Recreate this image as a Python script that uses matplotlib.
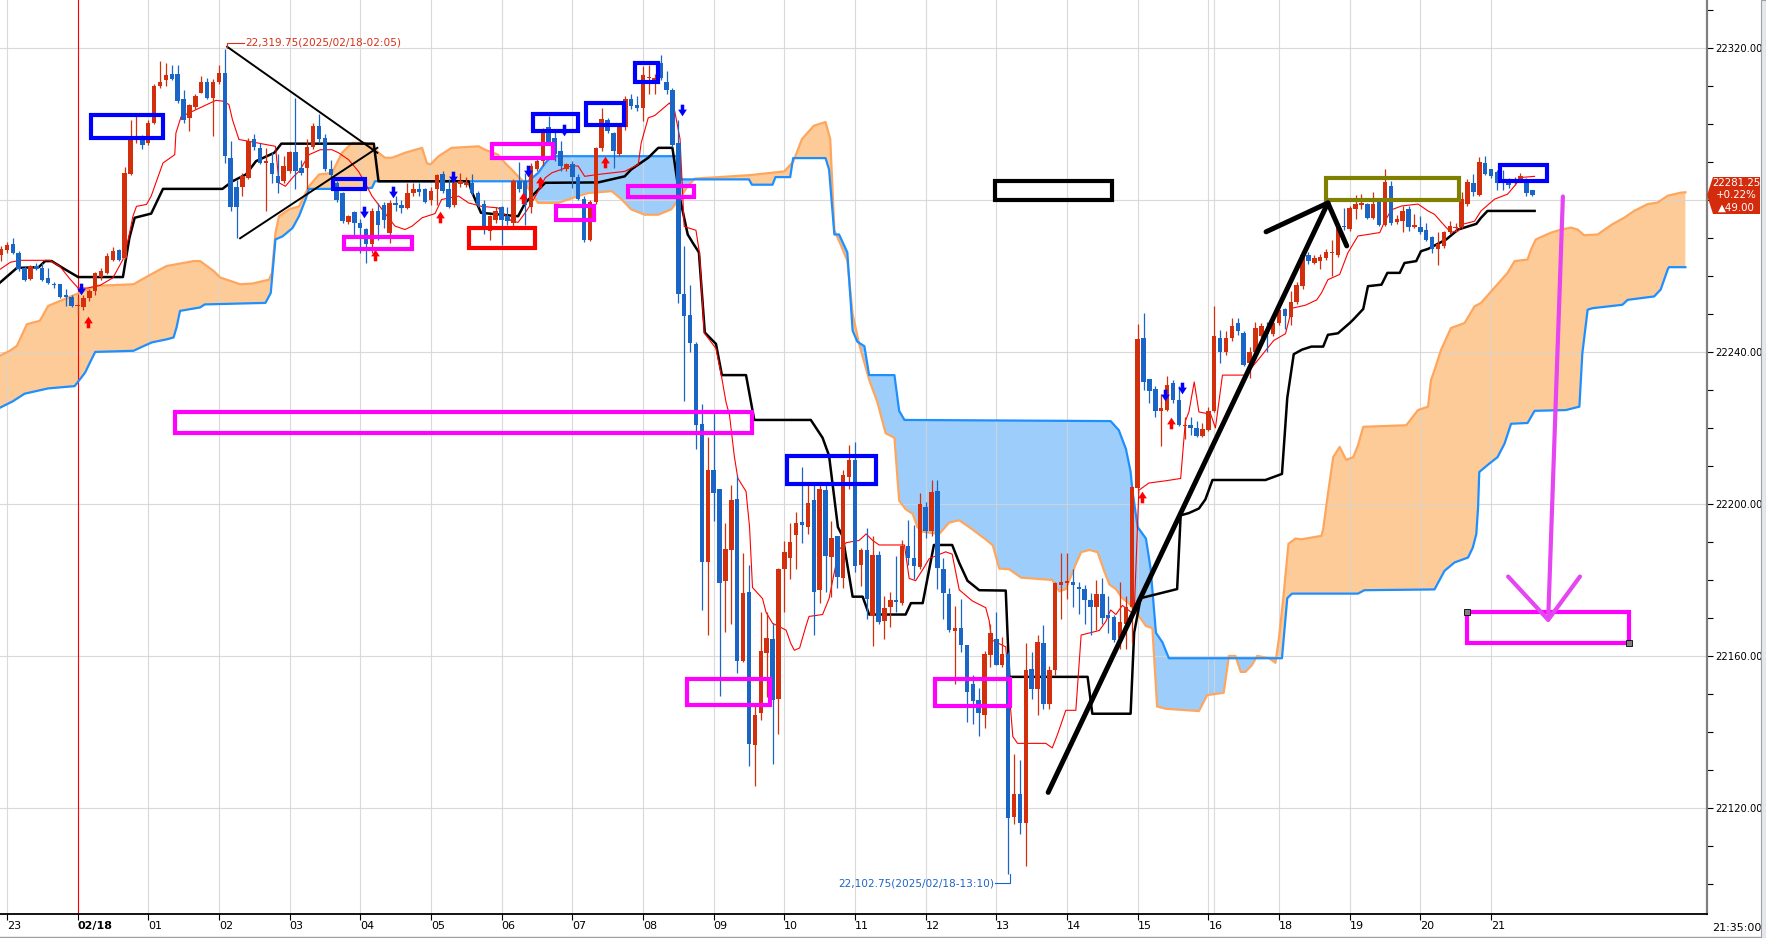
import numpy as np
import matplotlib
matplotlib.use('Agg')
import matplotlib.pyplot as plt
from matplotlib.patches import Rectangle, Polygon
from matplotlib.path import Path
from matplotlib import font_manager

#### data (5 minute candles, index 1 = 23:00)

opens = [
    22265.5, 22266.75, 22268.5, 22266.0, 22262.0, 22259.25, 22262.5, 22262.0, 22259.5, 22257.75,
    22257.75, 22254.75, 22254.5, 22252.0, 22251.75, 22254.25, 22256.0, 22259.75, 22260.75, 22264.25,
    22266.75, 22264.75, 22286.75, 22296.0, 22296.75, 22295.0, 22300.25, 22310.0, 22311.5, 22313.25,
    22313.0, 22306.5, 22301.5, 22304.5, 22308.25, 22311.0, 22306.75, 22311.0, 22313.5, 22291.0,
    22283.5, 22283.5, 22285.75, 22296.0, 22293.75, 22289.75, 22289.75, 22286.25, 22285.0, 22287.5,
    22292.5, 22288.5, 22288.5, 22294.0, 22299.5, 22296.25, 22288.0, 22284.5, 22281.75, 22274.25,
    22276.75, 22274.0, 22272.25, 22268.5, 22277.0, 22278.75, 22271.25, 22279.25, 22278.75, 22278.0,
    22281.75, 22283.0, 22282.75, 22280.0, 22282.75, 22286.75, 22282.75, 22278.75, 22284.25, 22284.0,
    22284.5, 22281.75, 22279.0, 22271.75, 22274.75, 22278.25, 22275.75, 22274.0, 22285.0, 22285.0,
    22278.25, 22288.0, 22290.25, 22299.25, 22296.25, 22292.75, 22288.0, 22289.5, 22286.0, 22280.25,
    22269.5, 22279.5, 22293.75, 22301.0, 22297.5, 22292.0, 22299.25, 22306.5, 22305.0, 22304.25,
    22312.0, 22311.5, 22316.0, 22311.0, 22309.0, 22295.0, 22255.25, 22249.75, 22242.0, 22221.0,
    22184.75, 22209.0, 22204.0, 22179.75, 22188.0, 22201.25, 22158.75, 22176.75, 22136.5, 22145.0,
    22160.75, 22164.5, 22148.75, 22182.75, 22185.75, 22191.75, 22195.25, 22194.0, 22201.0, 22177.25,
    22203.75, 22186.0, 22191.5, 22180.5, 22207.0, 22211.5, 22184.0, 22187.75, 22170.5, 22186.5,
    22169.25, 22173.0, 22174.5, 22174.0, 22189.0, 22185.75, 22183.5, 22199.25, 22193.0, 22203.5,
    22182.75, 22176.25, 22166.5, 22167.25, 22163.0, 22152.5, 22148.5, 22144.5, 22160.25, 22164.5,
    22157.5, 22160.5, 22117.75, 22123.75, 22116.0, 22156.5, 22151.25, 22163.5, 22147.25, 22156.25,
    22178.75, 22179.25, 22179.5, 22178.25, 22177.5, 22174.75, 22173.0, 22176.25, 22170.75, 22170.25,
    22164.75, 22168.5, 22172.75, 22204.25, 22243.75, 22232.75, 22230.25, 22224.5, 22224.75, 22231.75,
    22227.25, 22220.5, 22220.75, 22220.0, 22218.0, 22219.5, 22224.5, 22243.75, 22240.0, 22243.75,
    22247.5, 22245.0, 22237.0, 22240.0, 22244.25, 22245.5, 22244.75, 22247.5, 22251.25, 22249.25,
    22253.25, 22257.25, 22265.5, 22263.5, 22264.0, 22264.75, 22266.0, 22265.5, 22273.0, 22272.25,
    22277.5, 22278.75, 22279.0, 22275.25, 22279.75, 22273.5, 22283.75, 22274.25, 22274.5, 22277.5,
    22273.0, 22273.0, 22272.0, 22270.25, 22267.0, 22267.75, 22271.5, 22272.5, 22273.0, 22279.0,
    22284.5, 22281.25, 22289.75, 22288.0, 22287.25, 22285.5, 22285.5, 22284.75, 22285.5, 22285.5,
    22282.5]

highs = [
    22268.0, 22269.0, 22270.0, 22266.5, 22262.5, 22263.0, 22263.5, 22263.5, 22262.0, 22258.5,
    22258.0, 22256.5, 22255.0, 22254.5, 22255.0, 22256.5, 22261.0, 22262.0, 22266.0, 22267.5,
    22267.0, 22288.75, 22301.0, 22302.0, 22297.0, 22301.0, 22310.5, 22316.5, 22316.0, 22315.5,
    22315.5, 22309.0, 22305.25, 22307.75, 22312.5, 22312.0, 22311.75, 22315.5, 22319.75, 22295.5,
    22285.25, 22287.0, 22296.25, 22297.25, 22295.0, 22293.75, 22292.5, 22292.0, 22291.5, 22292.75,
    22306.75, 22290.5, 22296.0, 22300.25, 22302.5, 22297.25, 22290.5, 22285.0, 22282.0, 22276.0,
    22277.0, 22275.0, 22272.5, 22278.0, 22279.25, 22279.5, 22280.0, 22281.0, 22280.0, 22284.5,
    22284.5, 22284.5, 22283.25, 22283.5, 22286.75, 22287.5, 22285.5, 22285.5, 22287.0, 22286.0,
    22286.75, 22282.25, 22280.0, 22276.0, 22278.25, 22278.5, 22278.25, 22285.5, 22290.0, 22287.0,
    22289.75, 22291.0, 22299.0, 22302.0, 22298.0, 22295.5, 22289.75, 22290.25, 22286.75, 22281.0,
    22280.0, 22294.0, 22304.25, 22301.5, 22297.75, 22299.75, 22307.25, 22307.75, 22307.25, 22315.25,
    22315.5, 22313.0, 22318.25, 22314.0, 22309.5, 22301.0, 22268.0, 22257.5, 22242.5, 22226.25,
    22217.5, 22224.0, 22204.0, 22195.0, 22205.0, 22207.5, 22187.0, 22184.0, 22146.75, 22171.5,
    22171.5, 22168.75, 22183.25, 22190.25, 22195.0, 22198.0, 22209.75, 22205.75, 22205.75, 22205.75,
    22205.75, 22195.5, 22191.5, 22209.0, 22215.5, 22216.25, 22188.5, 22193.75, 22191.5, 22187.5,
    22175.75, 22176.75, 22186.25, 22190.5, 22195.75, 22194.5, 22202.75, 22200.5, 22206.25, 22206.25,
    22185.75, 22178.0, 22173.25, 22175.0, 22163.0, 22155.0, 22151.5, 22161.25, 22168.5, 22171.5,
    22165.0, 22161.0, 22134.25, 22132.75, 22163.5, 22161.0, 22165.5, 22168.25, 22157.25, 22179.5,
    22187.0, 22187.0, 22183.0, 22179.5, 22178.75, 22176.5, 22180.0, 22180.5, 22175.75, 22170.75,
    22179.5, 22175.75, 22204.75, 22247.25, 22250.25, 22233.0, 22231.0, 22229.0, 22233.75, 22232.5,
    22231.0, 22223.0, 22223.0, 22221.75, 22221.25, 22225.5, 22252.0, 22245.75, 22245.5, 22249.0,
    22249.0, 22245.5, 22241.25, 22248.0, 22247.5, 22248.0, 22248.25, 22252.0, 22251.5, 22256.0,
    22258.5, 22266.25, 22266.25, 22265.5, 22265.75, 22267.0, 22269.5, 22274.0, 22278.0, 22278.5,
    22281.25, 22281.5, 22279.25, 22282.0, 22280.0, 22288.0, 22285.0, 22276.0, 22278.5, 22278.5,
    22276.25, 22275.75, 22274.0, 22270.5, 22271.5, 22271.75, 22274.5, 22274.0, 22282.0, 22285.5,
    22286.75, 22291.25, 22291.5, 22288.25, 22287.75, 22287.75, 22285.75, 22286.0, 22287.0, 22285.75,
    22282.5]

lows = [
    22264.0, 22266.0, 22265.75, 22261.25, 22258.75, 22259.0, 22261.5, 22258.75, 22257.75, 22256.75,
    22254.25, 22252.0, 22251.75, 22249.5, 22251.0, 22253.5, 22255.0, 22259.0, 22260.5, 22264.0,
    22264.0, 22264.5, 22286.5, 22295.0, 22293.5, 22294.5, 22300.0, 22309.5, 22310.0, 22311.5,
    22305.5, 22300.25, 22298.0, 22304.0, 22308.0, 22306.5, 22296.75, 22310.5, 22289.75, 22277.0,
    22270.0, 22281.0, 22285.5, 22293.25, 22289.5, 22277.0, 22284.5, 22281.75, 22284.5, 22287.0,
    22282.75, 22286.5, 22282.75, 22293.5, 22295.0, 22287.5, 22285.75, 22279.5, 22274.0, 22273.75,
    22270.0, 22266.0, 22263.5, 22266.0, 22269.5, 22272.5, 22268.75, 22277.0, 22276.5, 22277.5,
    22281.0, 22281.0, 22279.25, 22278.75, 22278.75, 22281.75, 22278.0, 22278.25, 22283.5, 22283.5,
    22281.25, 22278.25, 22271.0, 22269.5, 22274.0, 22268.25, 22273.5, 22273.0, 22282.0, 22273.5,
    22276.5, 22287.5, 22289.0, 22294.5, 22290.25, 22287.5, 22287.5, 22283.25, 22280.0, 22269.0,
    22269.25, 22279.0, 22292.75, 22297.5, 22288.5, 22291.5, 22298.5, 22304.0, 22303.5, 22300.75,
    22307.75, 22307.75, 22311.5, 22307.75, 22294.0, 22253.0, 22227.0, 22240.0, 22214.5, 22172.0,
    22165.5, 22195.5, 22149.5, 22166.25, 22168.5, 22155.5, 22158.5, 22131.0, 22125.75, 22143.25,
    22149.25, 22131.5, 22139.5, 22171.5, 22180.25, 22182.75, 22189.75, 22192.0, 22165.5, 22174.0,
    22176.75, 22175.5, 22177.75, 22178.0, 22204.0, 22182.0, 22178.5, 22169.75, 22162.75, 22168.5,
    22164.5, 22167.5, 22171.5, 22173.5, 22184.0, 22180.25, 22182.75, 22191.0, 22191.5, 22177.5,
    22169.75, 22166.25, 22152.75, 22161.0, 22142.75, 22142.0, 22139.0, 22141.0, 22157.0, 22157.5,
    22157.0, 22102.75, 22115.75, 22113.25, 22104.75, 22148.75, 22144.5, 22146.0, 22146.0, 22155.0,
    22169.75, 22175.0, 22172.75, 22171.0, 22168.5, 22165.5, 22166.75, 22168.5, 22166.0, 22163.75,
    22161.75, 22161.75, 22163.5, 22203.0, 22230.0, 22226.5, 22223.0, 22215.25, 22224.5, 22226.5,
    22220.5, 22217.0, 22218.25, 22217.5, 22217.5, 22219.25, 22224.25, 22237.0, 22239.25, 22242.75,
    22244.5, 22236.25, 22233.25, 22239.5, 22243.5, 22240.0, 22244.25, 22247.0, 22246.0, 22247.0,
    22252.5, 22256.5, 22263.25, 22263.25, 22261.75, 22264.25, 22260.0, 22265.0, 22272.0, 22271.75,
    22275.0, 22277.5, 22275.0, 22275.0, 22273.25, 22273.25, 22273.5, 22273.75, 22271.5, 22271.75,
    22272.5, 22271.0, 22269.25, 22266.0, 22262.75, 22267.25, 22271.0, 22271.5, 22272.5, 22278.5,
    22281.0, 22281.0, 22286.5, 22285.75, 22282.5, 22282.5, 22283.25, 22284.0, 22285.0, 22281.0,
    22281.0]

closes = [
    22267.0, 22268.25, 22266.0, 22261.75, 22259.0, 22262.5, 22261.75, 22259.0, 22258.25, 22257.5,
    22254.5, 22254.5, 22252.0, 22252.25, 22254.25, 22256.0, 22260.75, 22261.25, 22265.25, 22266.5,
    22264.25, 22287.0, 22296.0, 22296.25, 22294.5, 22300.25, 22310.0, 22311.0, 22312.75, 22311.75,
    22306.0, 22301.0, 22305.0, 22307.25, 22311.0, 22306.75, 22311.0, 22313.5, 22291.5, 22278.25,
    22278.25, 22286.25, 22295.5, 22294.0, 22289.75, 22290.25, 22286.75, 22284.5, 22289.0, 22292.5,
    22287.5, 22287.0, 22294.0, 22299.5, 22296.0, 22288.0, 22286.5, 22280.0, 22274.5, 22275.75,
    22274.0, 22272.5, 22268.5, 22277.0, 22273.5, 22274.75, 22279.25, 22278.75, 22278.0, 22281.75,
    22283.0, 22282.0, 22279.5, 22282.25, 22286.5, 22282.25, 22278.25, 22284.5, 22285.0, 22284.5,
    22281.75, 22278.75, 22273.0, 22275.75, 22277.0, 22274.75, 22274.5, 22285.0, 22283.0, 22278.75,
    22289.0, 22290.25, 22297.5, 22295.0, 22292.0, 22289.0, 22289.5, 22286.0, 22280.25, 22269.5,
    22279.5, 22293.75, 22301.25, 22298.25, 22292.75, 22299.25, 22306.5, 22304.75, 22304.25, 22312.75,
    22312.25, 22312.0, 22312.0, 22309.0, 22294.5, 22255.25, 22249.5, 22242.25, 22220.75, 22184.75,
    22209.0, 22202.75, 22179.25, 22188.25, 22201.0, 22158.75, 22176.5, 22136.75, 22144.5, 22161.25,
    22164.75, 22148.5, 22182.75, 22187.25, 22190.0, 22195.0, 22194.5, 22200.25, 22176.75, 22204.0,
    22186.25, 22191.0, 22180.75, 22207.5, 22211.5, 22183.75, 22187.75, 22175.0, 22186.5, 22169.0,
    22172.5, 22174.75, 22174.25, 22189.0, 22185.75, 22183.75, 22200.0, 22193.0, 22203.25, 22183.25,
    22176.5, 22166.75, 22167.25, 22163.0, 22150.5, 22148.25, 22145.0, 22160.5, 22166.0, 22157.75,
    22160.5, 22117.25, 22123.75, 22116.0, 22156.25, 22151.25, 22163.75, 22147.25, 22156.25, 22179.25,
    22179.5, 22179.75, 22178.75, 22177.5, 22174.75, 22173.0, 22176.25, 22170.0, 22170.0, 22164.25,
    22169.0, 22172.75, 22204.5, 22243.5, 22232.0, 22229.75, 22224.5, 22225.25, 22231.25, 22227.25,
    22220.75, 22220.75, 22220.0, 22218.0, 22219.75, 22224.5, 22244.25, 22240.0, 22243.75, 22246.75,
    22245.5, 22236.5, 22240.0, 22246.25, 22246.75, 22244.75, 22247.5, 22251.0, 22249.5, 22253.25,
    22257.5, 22265.5, 22264.0, 22264.75, 22265.0, 22266.25, 22266.25, 22273.5, 22272.75, 22278.0,
    22279.0, 22279.0, 22275.25, 22279.0, 22273.5, 22284.75, 22274.0, 22275.0, 22277.0, 22273.0,
    22273.5, 22271.5, 22269.5, 22267.0, 22268.5, 22271.5, 22273.25, 22273.0, 22280.25, 22284.75,
    22282.0, 22290.0, 22286.75, 22286.25, 22284.5, 22284.5, 22284.0, 22285.5, 22286.25, 22281.75,
    22281.25]

# ichimoku lines, read as (candle index, price) break points
tenkan = [(-0.1, 22261.8), (1.6, 22263.6), (3.3, 22264.1), (8.3, 22264.1), (10.0, 22262.5), (11.7, 22259.2),
          (13.1, 22256.8), (14.6, 22256.8), (16.8, 22257.5), (19.0, 22259.5), (20.7, 22264.3), (21.6, 22269.6),
          (22.4, 22275.7), (23.0, 22278.3), (24.7, 22278.8), (25.5, 22281.0), (26.9, 22287.1), (27.5, 22289.7),
          (29.5, 22291.9), (29.7, 22297.6), (30.6, 22302.0), (31.4, 22302.5), (36.5, 22306.2), (37.6, 22306.0),
          (38.7, 22305.1), (39.3, 22301.1), (40.4, 22295.9), (46.6, 22294.1), (47.2, 22284.5), (48.3, 22283.6),
          (49.7, 22286.2), (50.6, 22287.5), (52.3, 22291.9), (54.2, 22293.2), (56.2, 22293.2), (57.3, 22292.4),
          (59.0, 22290.6), (60.7, 22287.5), (61.8, 22284.5), (63.0, 22281.0), (64.7, 22277.5), (66.9, 22273.1),
          (68.6, 22272.2), (69.8, 22273.1), (71.5, 22275.3), (73.7, 22276.4), (74.8, 22280.1), (77.7, 22281.0),
          (79.4, 22279.2), (81.6, 22278.3), (84.4, 22277.9), (86.7, 22274.4), (87.8, 22274.1), (89.0, 22276.6),
          (90.1, 22279.2), (91.2, 22282.3), (92.4, 22285.8), (93.5, 22287.1), (96.9, 22289.0), (98.0, 22288.9),
          (99.1, 22286.2), (101.4, 22286.7), (105.9, 22287.5), (108.2, 22289.3), (108.7, 22295.0), (109.9, 22301.6),
          (111.0, 22302.2), (113.5, 22305.5), (114.4, 22303.3), (115.3, 22296.0), (116.0, 22273.0), (118.0, 22272.0),
          (118.6, 22266.0), (119.4, 22245.0), (121.4, 22240.9), (122.3, 22233.9), (123.1, 22226.8), (123.7, 22223.3),
          (124.5, 22212.7), (125.1, 22206.8), (126.5, 22203.3), (127.1, 22193.9), (127.6, 22178.0), (129.3, 22175.1),
          (129.9, 22171.5), (131.0, 22168.6), (133.3, 22166.8), (134.1, 22163.3), (134.7, 22161.5), (135.6, 22162.1),
          (136.7, 22168.0), (137.2, 22170.4), (139.5, 22170.9), (140.6, 22175.1), (141.5, 22182.1), (142.3, 22188.0),
          (143.5, 22189.8), (145.7, 22190.4), (146.9, 22192.1), (148.0, 22190.4), (149.1, 22189.2), (153.4, 22189.2),
          (154.2, 22180.4), (155.3, 22179.8), (156.5, 22182.7), (157.6, 22185.6), (160.4, 22187.4), (161.5, 22186.8),
          (162.1, 22182.1), (162.7, 22177.4), (164.9, 22174.5), (167.2, 22172.7), (167.8, 22169.2), (168.2, 22164.2),
          (170.6, 22162.4), (171.2, 22150.3), (171.8, 22138.8), (172.6, 22137.0), (177.4, 22137.0), (178.5, 22135.8),
          (179.4, 22139.4), (180.8, 22145.7), (182.5, 22145.7), (183.4, 22165.5), (186.5, 22166.7), (187.6, 22169.1),
          (188.4, 22172.1), (189.3, 22170.9), (190.4, 22173.3), (192.4, 22170.9), (193.2, 22203.6), (194.9, 22205.5),
          (197.8, 22206.1), (200.3, 22206.7), (201.1, 22221.8), (201.7, 22224.2), (202.6, 22232.1), (203.4, 22224.2),
          (205.4, 22223.6), (206.2, 22220.0), (207.4, 22233.9), (211.3, 22233.9), (213.6, 22238.2), (216.1, 22243.0),
          (218.1, 22244.8), (219.2, 22251.5), (221.5, 22252.3), (223.4, 22253.7), (224.2, 22255.5), (225.3, 22259.0),
          (227.3, 22260.4), (228.7, 22266.1), (230.4, 22270.5), (234.1, 22271.4), (234.9, 22274.2), (236.1, 22277.4),
          (237.8, 22278.4), (240.6, 22278.9), (242.3, 22277.1), (243.4, 22276.2), (245.4, 22272.7), (246.2, 22271.5),
          (247.4, 22271.8), (248.2, 22273.6), (250.2, 22274.4), (251.3, 22277.1), (253.6, 22280.2), (255.8, 22281.5),
          (257.0, 22283.7), (258.1, 22285.9), (260.4, 22286.2)]

kijun = [(-0.2, 22258.2), (2.7, 22262.1), (6.4, 22262.3), (7.5, 22263.9), (8.6, 22263.9), (10.9, 22261.7),
         (13.1, 22259.7), (20.7, 22259.7), (21.8, 22270.0), (22.7, 22275.3), (25.5, 22276.4), (27.5, 22282.9),
         (37.6, 22282.9), (39.3, 22284.9), (41.6, 22286.7), (43.3, 22290.2), (46.4, 22292.4), (47.6, 22294.8),
         (63.3, 22294.8), (64.1, 22284.9), (79.4, 22284.9), (79.9, 22282.3), (81.5, 22276.6), (87.8, 22275.7),
         (89.0, 22279.2), (92.4, 22284.5), (101.4, 22284.6), (105.9, 22286.2), (107.0, 22288.0), (109.9, 22291.1),
         (111.6, 22293.7), (114.0, 22293.7), (115.2, 22281.0), (116.6, 22270.9), (117.5, 22268.6), (118.5, 22266.2),
         (119.5, 22245.1), (121.4, 22242.1), (122.4, 22233.9), (126.5, 22233.9), (127.9, 22222.1), (137.5, 22222.1),
         (139.5, 22217.4), (140.6, 22212.7), (142.1, 22193.9), (142.9, 22191.5), (144.6, 22175.6), (146.3, 22175.6),
         (147.4, 22170.9), (153.6, 22170.9), (154.5, 22173.9), (156.5, 22173.9), (158.4, 22189.2), (161.5, 22189.2),
         (162.7, 22184.5), (164.1, 22179.8), (166.1, 22177.3), (170.6, 22177.2), (171.2, 22154.5), (184.5, 22154.5),
         (185.3, 22144.8), (191.8, 22144.8), (192.4, 22166.1), (193.5, 22175.2), (196.6, 22176.4), (199.7, 22177.6),
         (200.3, 22197.0), (201.7, 22197.6), (203.4, 22198.8), (204.5, 22201.2), (205.7, 22206.3), (214.7, 22206.3),
         (217.5, 22207.9), (218.4, 22227.9), (219.5, 22239.4), (220.9, 22240.6), (222.5, 22241.4), (224.5, 22241.4),
         (225.3, 22244.5), (227.0, 22244.9), (229.0, 22247.6), (229.6, 22248.5), (231.3, 22251.3), (232.1, 22257.3),
         (234.4, 22257.7), (235.4, 22260.8), (237.5, 22260.8), (238.3, 22263.4), (240.3, 22263.9), (241.1, 22266.5),
         (242.3, 22267.1), (245.4, 22269.6), (247.4, 22272.2), (250.5, 22273.7), (251.3, 22275.3), (252.4, 22277.1),
         (260.4, 22277.1)]

span_a = [(-0.2, 22239.0), (1.5, 22240.3), (2.7, 22241.6), (4.4, 22247.3), (6.6, 22248.2), (8.0, 22252.1),
          (10.0, 22253.4), (12.8, 22255.2), (16.2, 22257.4), (22.5, 22257.8), (25.0, 22260.0), (28.1, 22262.6),
          (32.7, 22263.9), (33.8, 22263.9), (36.1, 22261.3), (37.2, 22259.6), (40.6, 22257.8), (42.7, 22258.0),
          (45.5, 22259.0), (46.0, 22260.8), (46.6, 22271.3), (47.2, 22275.7), (48.9, 22277.5), (50.6, 22278.3),
          (52.3, 22283.6), (54.0, 22286.7), (56.2, 22287.1), (57.9, 22292.4), (59.6, 22295.0), (61.8, 22295.0),
          (63.0, 22294.1), (64.1, 22292.4), (65.2, 22291.1), (66.4, 22291.1), (68.6, 22292.4), (71.5, 22293.7),
          (72.3, 22289.7), (72.9, 22289.3), (74.3, 22291.5), (76.5, 22293.7), (81.1, 22294.1), (82.2, 22293.2),
          (84.4, 22291.9), (85.6, 22289.7), (86.7, 22288.0), (87.8, 22286.2), (88.7, 22284.9), (90.1, 22281.8),
          (91.2, 22279.2), (94.6, 22279.2), (98.0, 22281.0), (99.7, 22281.8), (103.7, 22282.3), (105.4, 22280.1),
          (107.0, 22277.5), (109.3, 22276.1), (111.6, 22276.1), (113.8, 22277.5), (115.5, 22281.0), (116.6, 22283.6),
          (117.8, 22285.6), (127.0, 22286.5), (133.0, 22287.5), (134.5, 22290.0), (136.0, 22296.0), (138.0, 22299.5),
          (140.0, 22300.5), (140.8, 22296.0), (141.5, 22272.0), (142.5, 22268.5), (143.7, 22264.0), (144.6, 22250.0),
          (145.7, 22242.1), (147.4, 22232.7), (148.8, 22226.8), (150.2, 22218.6), (151.7, 22217.4), (152.5, 22200.9),
          (153.6, 22198.6), (154.8, 22197.4), (155.6, 22193.9), (156.5, 22192.7), (159.3, 22192.1), (161.0, 22195.1),
          (162.7, 22195.7), (164.4, 22193.9), (167.0, 22190.9), (168.4, 22189.1), (169.5, 22183.0), (171.2, 22182.8),
          (173.2, 22180.6), (178.5, 22180.0), (179.7, 22177.0), (180.8, 22177.6), (182.5, 22184.2), (183.4, 22187.3),
          (184.8, 22187.9), (186.2, 22187.3), (187.3, 22182.4), (188.2, 22178.8), (189.3, 22177.6), (190.4, 22175.2),
          (191.5, 22173.9), (193.0, 22170.9), (194.4, 22167.9), (195.5, 22167.3), (196.3, 22146.7), (197.8, 22146.1),
          (203.4, 22145.5), (204.8, 22149.7), (207.6, 22150.3), (208.5, 22160.0), (209.6, 22160.0), (210.5, 22155.8),
          (211.3, 22155.8), (212.4, 22157.6), (213.3, 22160.0), (215.3, 22159.4), (216.4, 22158.2), (217.0, 22164.8),
          (217.8, 22176.4), (218.6, 22189.5), (219.8, 22190.9), (220.8, 22190.7), (224.2, 22191.6), (224.5, 22193.4),
          (225.3, 22202.6), (226.2, 22212.3), (227.3, 22215.0), (228.4, 22211.6), (229.6, 22212.3), (230.4, 22215.4),
          (231.3, 22220.3), (238.6, 22220.7), (239.7, 22222.9), (240.6, 22224.7), (242.3, 22225.6), (242.8, 22232.6),
          (243.4, 22235.2), (244.5, 22240.5), (246.2, 22246.3), (248.5, 22247.6), (250.2, 22252.0), (251.3, 22252.9),
          (253.3, 22256.4), (255.8, 22260.8), (257.0, 22263.9), (259.2, 22264.3), (259.8, 22267.0), (260.6, 22269.6),
          (263.2, 22271.4), (264.9, 22272.2), (266.6, 22272.7), (267.7, 22272.2), (268.8, 22270.7), (271.1, 22270.9),
          (273.6, 22273.6), (275.6, 22275.3), (277.3, 22277.1), (279.6, 22278.9), (281.3, 22279.3), (283.0, 22281.1),
          (285.2, 22281.9), (286.0, 22282.0)]

span_b = [(-0.2, 22225.3), (2.0, 22227.0), (4.0, 22229.0), (8.0, 22230.4), (12.5, 22231.0), (13.4, 22232.8),
          (14.3, 22234.6), (15.1, 22237.2), (16.0, 22240.0), (22.5, 22240.3), (23.6, 22241.1), (25.6, 22242.5),
          (28.1, 22243.3), (29.3, 22243.8), (29.8, 22246.4), (30.4, 22250.8), (33.8, 22251.7), (34.6, 22252.5),
          (44.9, 22252.9), (45.8, 22255.5), (46.6, 22269.6), (47.8, 22270.4), (49.5, 22272.6), (50.6, 22275.7),
          (51.7, 22280.1), (52.3, 22282.9), (61.0, 22282.9), (63.0, 22283.2), (63.5, 22284.9), (89.5, 22284.9),
          (91.2, 22287.1), (92.4, 22289.7), (93.5, 22291.5), (115.0, 22291.5), (115.5, 22285.4), (127.0, 22285.4),
          (127.5, 22284.0), (131.0, 22284.0), (131.5, 22286.0), (134.0, 22286.0), (134.5, 22291.0), (140.0, 22291.0),
          (140.6, 22288.0), (141.5, 22270.9), (142.3, 22270.9), (143.7, 22266.2), (144.6, 22245.6), (145.4, 22242.7),
          (146.6, 22241.5), (147.4, 22233.9), (151.7, 22233.9), (152.5, 22224.5), (153.4, 22222.1), (188.4, 22221.8),
          (189.8, 22219.4), (191.0, 22214.5), (191.8, 22208.5), (192.1, 22203.6), (193.0, 22193.9), (194.4, 22190.9),
          (195.2, 22183.0), (196.1, 22166.1), (197.2, 22163.6), (198.3, 22159.4), (217.5, 22159.4), (218.4, 22175.2),
          (219.2, 22176.4), (230.4, 22176.4), (231.5, 22177.3), (243.4, 22177.5), (245.1, 22182.4), (246.8, 22184.6),
          (249.1, 22185.9), (249.9, 22188.5), (250.5, 22192.1), (250.8, 22199.1), (251.0, 22208.4), (252.7, 22210.6),
          (254.1, 22212.3), (255.3, 22215.9), (256.4, 22221.1), (259.2, 22221.3), (260.4, 22224.5), (265.7, 22224.7),
          (268.0, 22225.6), (268.5, 22239.6), (269.4, 22251.1), (270.2, 22251.5), (275.3, 22252.4), (276.2, 22253.7),
          (280.7, 22254.6), (281.8, 22256.4), (283.0, 22261.7), (283.2, 22262.3), (286.0, 22262.3)]

# signal arrows
sell_x = [13.5, 61.6, 66.6, 76.7, 89.5, 95.6, 115.6, 197.6, 200.6]
sell_y = [22256.5, 22276.9, 22282.2, 22285.9, 22287.7, 22298.4, 22303.7, 22228.6, 22230.4]
buy_x = [14.7, 63.5, 74.5, 88.6, 91.5, 102.5, 193.7, 198.6]
buy_y = [22248.0, 22265.5, 22275.6, 22280.4, 22284.8, 22290.1, 22201.7, 22221.2]

# hour labels
hour_pos = [1, 13, 25, 37, 49, 61, 73, 85, 97, 109, 121, 133, 145, 157, 169, 181, 193, 205, 217, 229, 241, 253]
hour_lab = ['23', '02/18', '01', '02', '03', '04', '05', '06', '07', '08', '09', '10', '11',
            '12', '13', '14', '15', '16', '18', '19', '20', '21']

# boxes drawn on the chart: x0, x1, y0, y1, colour
boxes = [
    (15.3, 27.5, 22296.3, 22302.4, '#0000FF'),
    (56.3, 61.8, 22282.8, 22285.5, '#0000FF'),
    (58.3, 69.8, 22267.0, 22270.2, '#FF00FF'),
    (79.5, 90.7, 22267.3, 22272.5, '#FF0000'),
    (83.3, 93.8, 22291.0, 22294.8, '#FF00FF'),
    (90.3, 97.9, 22298.2, 22302.5, '#0000FF'),
    (94.3, 100.7, 22274.8, 22278.5, '#FF00FF'),
    (99.3, 105.8, 22299.8, 22305.4, '#0000FF'),
    (107.6, 111.6, 22310.9, 22315.9, '#0000FF'),
    (106.4, 117.7, 22280.7, 22283.7, '#FF00FF'),
    (29.6, 127.5, 22218.6, 22224.1, '#FF00FF'),
    (133.5, 148.6, 22205.2, 22212.5, '#0000FF'),
    (116.5, 130.6, 22147.0, 22154.0, '#FF00FF'),
    (158.6, 171.4, 22146.9, 22154.0, '#FF00FF'),
    (168.7, 188.6, 22280.0, 22284.9, '#000000'),
    (224.9, 247.6, 22280.1, 22285.7, '#808000'),
    (254.6, 262.5, 22284.9, 22289.2, '#0000FF'),
    (248.9, 276.5, 22163.5, 22171.5, '#FF00FF'),
]

RED = '#D42F0D'
BLUE = '#1A66C6'

W, H = 1766, 938
fig = plt.figure(figsize=(W / 100, H / 100), dpi=100)
ax = fig.add_axes([0, 24 / H, 1706.6 / W, 914 / H])

names = {f.name for f in font_manager.fontManager.ttflist}
if 'Liberation Sans Narrow' in names:
    FNT, xs_size, ys_size, an_size, tag_size = 'Liberation Sans Narrow', 10, 9.5, 9, 9
else:
    FNT, xs_size, ys_size, an_size, tag_size = 'DejaVu Sans', 8, 7.2, 7.6, 7.4

# cloud
ax_x, ax_y = np.array(span_a).T
bx_x, bx_y = np.array(span_b).T
grid_x = np.linspace(-0.2, 286, 4000)
ga = np.interp(grid_x, ax_x, ax_y)
gb = np.interp(grid_x, bx_x, bx_y)
ax.fill_between(grid_x, ga, gb, where=ga >= gb, interpolate=True, color='#FDCB98', lw=0, zorder=1)
ax.fill_between(grid_x, ga, gb, where=ga < gb, interpolate=True, color='#9DCEFB', lw=0, zorder=1)

# grid
for p in hour_pos + [206]:
    ax.axvline(p, color='#D4D4D4', lw=0.8, zorder=1.5, alpha=0.85)
for p in range(22120, 22321, 40):
    ax.axhline(p, color='#D4D4D4', lw=0.8, zorder=1.5, alpha=0.85)
ax.axvline(13, color='#FF0000', lw=0.8, zorder=1.6)

ax.plot(ax_x, ax_y, color='#FFA65E', lw=1.6, zorder=2)
ax.plot(bx_x, bx_y, color='#1E8FFF', lw=1.6, zorder=2)
kx, ky = np.array(kijun).T
ax.plot(kx, ky, color='black', lw=1.8, zorder=3)
tx, ty = np.array(tenkan).T
ax.plot(tx, ty, color='#FF0000', lw=0.8, zorder=3)

# candles
o, h, l, c = (np.array(v) for v in (opens, highs, lows, closes))
idx = np.arange(len(c))
col = np.where(c >= o, RED, BLUE)
ax.vlines(idx, l, h, colors=col, lw=0.9, zorder=5)
ax.bar(idx, np.maximum(np.abs(c - o), 0.35), bottom=np.minimum(o, c), width=0.76,
       color=col, lw=0, zorder=6)

# signal arrows
down = Path([(-0.3, 1), (0.3, 1), (0.3, 0.15), (0.75, 0.15), (0, -1), (-0.75, 0.15), (-0.3, 0.15), (-0.3, 1)])
up = Path([(-0.3, -1), (0.3, -1), (0.3, -0.15), (0.75, -0.15), (0, 1), (-0.75, -0.15), (-0.3, -0.15), (-0.3, -1)])
ax.scatter(sell_x, sell_y, marker=down, s=70, color='#0000FF', lw=0, zorder=7)
ax.scatter(buy_x, buy_y, marker=up, s=70, color='#FF0000', lw=0, zorder=7)

# drawings
for x0, x1, y0, y1, cl in boxes:
    ax.add_patch(Rectangle((x0, y0), x1 - x0, y1 - y0, fill=False, edgecolor=cl,
                           lw=3.0, zorder=8, joinstyle='miter'))
ax.plot([248.9, 276.5], [22171.5, 22163.5], 's', ms=4, mfc='#808080', mec='black', mew=0.6, zorder=9)

ax.plot([38.4, 63.9], [22320.3, 22292.4], color='black', lw=1.4, zorder=8)
ax.plot([40.6, 63.9], [22269.9, 22293.7], color='black', lw=1.4, zorder=8)

ax.plot([177.8, 225.3], [22124.1, 22279.2], color='black', lw=3.6, solid_capstyle='round', zorder=8)
ax.plot([214.8, 225.3, 228.5], [22271.6, 22279.2, 22267.9], color='black', lw=3.6,
        solid_capstyle='round', solid_joinstyle='round', zorder=8)

ax.plot([265.2, 262.7], [22280.9, 22169.5], color='#E645F2', lw=3.0, solid_capstyle='round', zorder=8)
ax.plot([255.9, 262.7, 268.1], [22180.9, 22169.5, 22180.9], color='#E645F2', lw=3.0,
        solid_capstyle='round', zorder=8)

# high / low labels
ax.plot([38.4, 38.4, 41.3], [22319.9, 22321.3, 22321.3], color='#D83018', lw=0.8, zorder=8)
ax.text(41.5, 22321.3, '22,319.75(2025/02/18-02:05)', color='#D83018', fontsize=an_size,
        family=FNT, va='center', ha='left', zorder=9)
ax.plot([168.8, 171.3, 171.3], [22100.2, 22100.2, 22102.7], color='#1E64C8', lw=0.8, zorder=8)
ax.text(168.6, 22100.2, '22,102.75(2025/02/18-13:10)', color='#1E64C8', fontsize=an_size,
        family=FNT, va='center', ha='right', zorder=9)

# axes
ax.set_xlim(-0.17, 289.6)
ax.set_ylim(22092.1, 22332.6)
ax.spines['top'].set_visible(False)
ax.spines['left'].set_visible(False)
ax.spines['bottom'].set_color('black')
ax.spines['bottom'].set_linewidth(1.3)
ax.spines['right'].set_color('#808080')
ax.spines['right'].set_linewidth(1.6)

ax.yaxis.tick_right()
ax.set_yticks(range(22120, 22321, 40))
ax.set_yticklabels(['%.2f' % v if v != 22280 else '' for v in range(22120, 22321, 40)])
ax.set_yticks(range(22100, 22331, 10), minor=True)
ax.tick_params(axis='y', which='both', direction='out', length=4, width=0.8, pad=2,
               labelsize=ys_size, colors='black')
for t in ax.get_yticklabels():
    t.set_family(FNT)

ax.set_xticks(hour_pos)
ax.set_xticklabels(hour_lab)
ax.tick_params(axis='x', direction='out', length=4, width=0.8, pad=1, labelsize=xs_size)
for t in ax.get_xticklabels():
    t.set_family(FNT)
    t.set_ha('left')
    if t.get_text() == '02/18':
        t.set_weight('bold')

fig.text(1712 / W, 1 - 928 / H, '21:35:00', family=FNT, fontsize=xs_size, va='center', ha='left')

# frame strip on the right
fig.patches.append(Rectangle((1761 / W, 0), 5 / W, 1, transform=fig.transFigure,
                             facecolor='#E6E8F0', edgecolor='#A0A0A0', lw=0.8, zorder=2))
fig.lines.append(plt.Line2D([0, 1], [1.5 / H, 1.5 / H], transform=fig.transFigure, color='#A0A0A0', lw=1))

# last price tag
tag = [(1707, 195.3), (1713, 177), (1760, 177), (1760, 214), (1713, 214)]
fig.patches.append(Polygon([(x / W, 1 - y / H) for x, y in tag], closed=True, transform=fig.transFigure,
                           facecolor='#D42B0C', edgecolor='none', zorder=5))
for txt, yy in [('22281.25', 183.5), ('+0.22%', 195.5), ('\u25b249.00', 207.5)]:
    fig.text(1736.5 / W, 1 - yy / H, txt, color='white', family=FNT, fontsize=tag_size,
             ha='center', va='center', zorder=6)

fig.savefig('out.png', dpi=100)
